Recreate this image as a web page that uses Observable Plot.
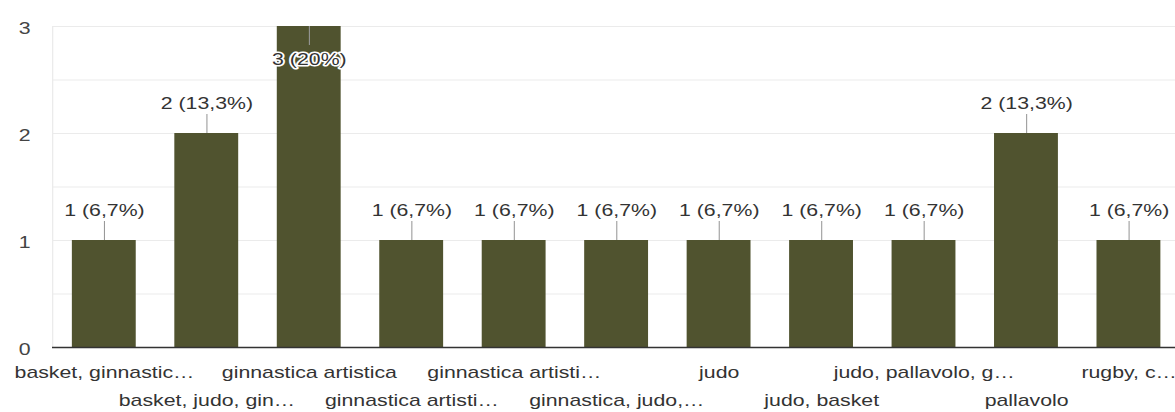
<!DOCTYPE html>
<html><head><meta charset="utf-8">
<script src="https://cdn.jsdelivr.net/npm/d3@7"></script>
<script src="https://cdn.jsdelivr.net/npm/@observablehq/plot@0.6"></script>
<style>html,body{margin:0;padding:0;background:#fff;overflow:hidden}</style>
</head><body><div id="chart"></div>
<script>
// ---- data ----
const categories = [
  "basket, ginnastica artistica",
  "basket, judo, ginnastica artistica",
  "ginnastica artistica",
  "ginnastica artistica, judo",
  "ginnastica artistica, pallavolo",
  "ginnastica, judo, pallavolo",
  "judo",
  "judo, basket",
  "judo, pallavolo, ginnastica",
  "pallavolo",
  "rugby, calcio"
];
const tickLabels = [
  "basket, ginnastic…",
  "basket, judo, gin…",
  "ginnastica artistica",
  "ginnastica artisti…",
  "ginnastica artisti…",
  "ginnastica, judo,…",
  "judo",
  "judo, basket",
  "judo, pallavolo, g…",
  "pallavolo",
  "rugby, c…"
];
const counts = [1, 2, 3, 1, 1, 1, 1, 1, 1, 2, 1];
const yTicks = [0, 1, 2, 3];
const gridValues = [0.5, 1, 1.5, 2, 2.5, 3];

// ---- derived ----
const total = d3.sum(counts);
const fmtPct = v => String(Math.round(v / total * 1000) / 10).replace(".", ",") + "%";
const data = categories.map((c, i) => ({cat: c, value: counts[i], text: `${counts[i]} (${fmtPct(counts[i])})`}));

const OUT_W = 1175, H = 412, STRETCH = 1.3307;
const W = OUT_W / STRETCH;
const marginTop = 26, marginBottom = 65;
const yMax = 3;
const pxPerUnit = (H - marginTop - marginBottom) / yMax;
const leader = 19 / pxPerUnit;
const isInside = d => d.value >= yMax;
const outside = data.filter(d => !isInside(d));
const inside = data.filter(isInside);
const labelOf = d => tickLabels[categories.indexOf(d)];
const row1 = categories.filter((_, i) => i % 2 === 0);
const row2 = categories.filter((_, i) => i % 2 === 1);

const plot = Plot.plot({
  width: W, height: H,
  marginTop, marginBottom,
  marginLeft: 52 / STRETCH,
  marginRight: W - 1181 / STRETCH,
  style: {fontFamily: "Arial, 'Liberation Sans', sans-serif", fontSize: "16px", color: "#333", background: "#fff"},
  x: {domain: categories, paddingInner: 0.382, paddingOuter: 0.191, axis: null, label: null},
  y: {domain: [0, yMax], axis: null, label: null},
  marks: [
    Plot.frame({stroke: "#ebebeb"}),
    Plot.ruleY(gridValues, {stroke: "#ebebeb"}),
    Plot.barY(data, {x: "cat", y: "value", fill: "#50532f"}),
    Plot.ruleY([0], {stroke: "#333", strokeWidth: 1.5}),
    Plot.axisY(yTicks, {tickSize: 0, tickPadding: 16.5, fill: "#444", dy: 2, label: null, tickFormat: d3.format("d")}),
    Plot.axisX(row1, {tickSize: 0, tickPadding: 19, tickFormat: labelOf, fill: "#333", label: null}),
    Plot.axisX(row2, {tickSize: 0, tickPadding: 47, tickFormat: labelOf, fill: "#333", label: null}),
    Plot.ruleX(outside, {x: "cat", y1: "value", y2: d => d.value + leader, stroke: "#999", strokeWidth: 0.8}),
    Plot.ruleX(inside, {x: "cat", y1: "value", y2: d => d.value - leader, stroke: "#999", strokeWidth: 0.8}),
    Plot.text(outside, {x: "cat", y: "value", text: "text", dy: -30, fill: "#333", stroke: "white", strokeWidth: 3}),
    Plot.text(inside, {x: "cat", y: "value", text: "text", dy: 33, fill: "#333", stroke: "white", strokeWidth: 3})
  ]
});
plot.setAttribute("width", OUT_W);
plot.setAttribute("height", H);
plot.setAttribute("preserveAspectRatio", "none");
plot.style.width = OUT_W + "px";
plot.style.height = H + "px";
plot.style.maxWidth = "none";
document.getElementById("chart").appendChild(plot);
</script>
</body></html>
